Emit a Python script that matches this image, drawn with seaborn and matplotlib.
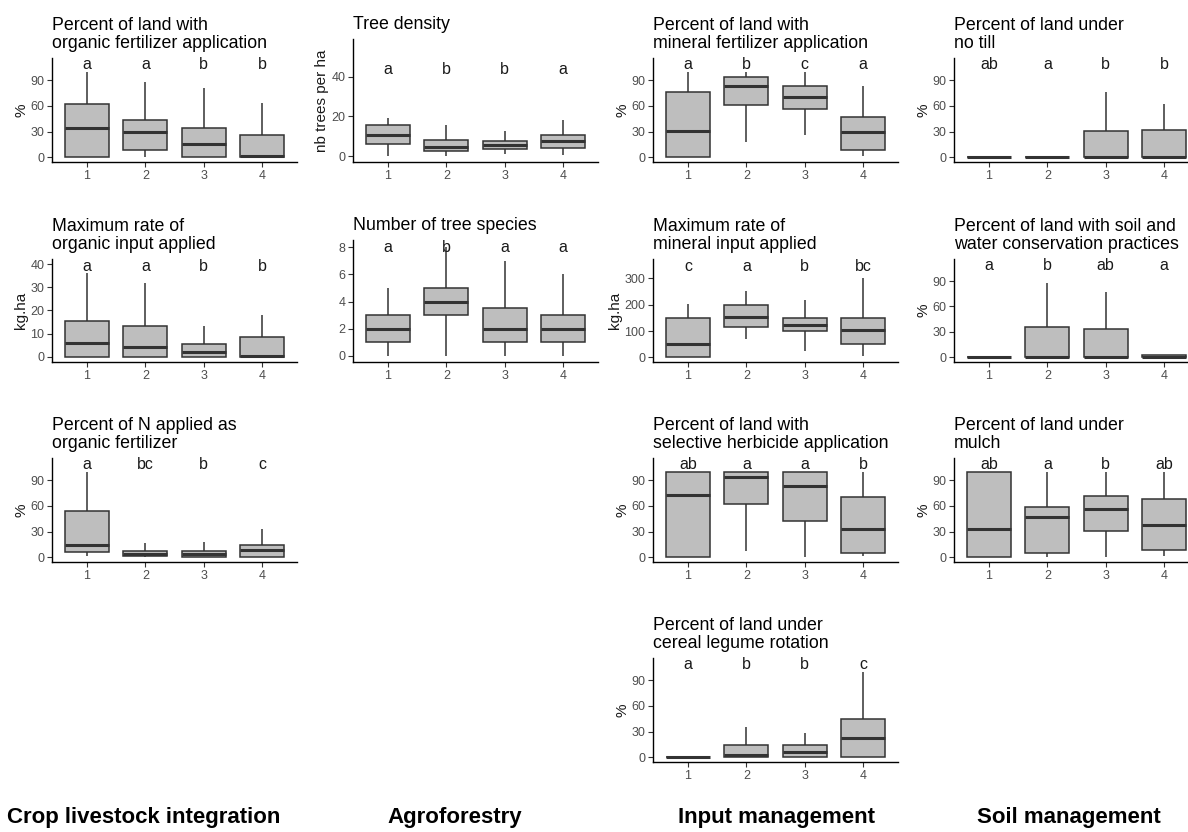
# ----------------------------------------------------------
# Boxplots of farm practices by farm type (1-4)
# ----------------------------------------------------------
import numpy as np
import pandas as pd
import matplotlib.pyplot as plt
import seaborn as sns

# ----------------------------------------------------------
# Data: per farm type [low whisker, Q1, median, Q3, high whisker]
# ----------------------------------------------------------
groups = ["1", "2", "3", "4"]

organic_fert_pct = [[0, 0, 34, 62, 100], [0, 9, 29, 43, 88],
                    [0, 0, 15, 34, 81], [0, 0, 1, 26, 63]]
organic_fert_letters = ["a", "a", "b", "b"]

tree_density = [[0, 5.9, 10.8, 15.5, 19.4], [0, 2.7, 4.7, 7.9, 15.7],
                [1, 3.4, 5.7, 7.4, 12.7], [0.7, 3.9, 7.8, 10.5, 18.2]]
tree_density_letters = ["a", "b", "b", "a"]

mineral_fert_pct = [[0, 0, 31, 76, 100], [18, 61, 83, 93.5, 100],
                    [26, 57, 70.5, 83, 100], [1, 8, 29.6, 46.7, 83.4]]
mineral_fert_letters = ["a", "b", "c", "a"]

no_till_pct = [[0, 0, 0, 0, 0], [0, 0, 0, 0, 0],
               [0, 0, 0, 30.4, 76.4], [0, 0, 0, 31.5, 62.3]]
no_till_letters = ["ab", "a", "b", "b"]

max_organic_rate = [[0, 0, 5.8, 15.4, 36.3], [0, 0, 4.2, 13.2, 32],
                    [0, 0, 1.9, 5.5, 13.4], [0, 0, 0.4, 8.6, 17.8]]
max_organic_letters = ["a", "a", "b", "b"]

tree_species = [[0, 1, 2, 3, 5], [0, 3, 4, 5, 8],
                [0, 1, 2, 3.5, 7], [0, 1, 2, 3, 6]]
tree_species_letters = ["a", "b", "a", "a"]

max_mineral_rate = [[0, 0, 51, 149, 202], [71, 115, 152, 201, 253],
                    [25, 99, 123, 149, 220], [5, 50, 103, 149, 300]]
max_mineral_letters = ["c", "a", "b", "bc"]

swc_pct = [[0, 0, 0, 0, 0], [0, 0, 0.8, 35.5, 88],
           [0, 0, 0.5, 33.2, 77.4], [0, 0, 0.5, 2.5, 3]]
swc_letters = ["a", "b", "ab", "a"]

n_organic_pct = [[1, 5.8, 14, 53.5, 100], [0, 1.2, 4.3, 7, 17],
                 [0, 0, 4.3, 7, 17.8], [0, 0, 8.5, 14.4, 33.4]]
n_organic_letters = ["a", "bc", "b", "c"]

herbicide_pct = [[0, 0, 72.5, 100, 100], [7.8, 61.7, 93.5, 100, 100],
                 [0, 41.9, 83.4, 100, 100], [1, 5, 33.4, 71, 100]]
herbicide_letters = ["ab", "a", "a", "b"]

mulch_pct = [[0, 0, 33.4, 100, 100], [0, 4.7, 46.5, 59.3, 100],
             [0, 30.3, 57, 72, 100], [1, 9, 37.2, 68, 100]]
mulch_letters = ["ab", "a", "b", "ab"]

rotation_pct = [[0, 0, 0, 0, 0], [0, 0, 3.1, 14.4, 35.7],
                [0, 0, 5.8, 14.4, 28.3], [0, 0, 22.9, 44.6, 100]]
rotation_letters = ["a", "b", "b", "c"]

section_labels = ["Crop livestock integration", "Agroforestry",
                  "Input management", "Soil management"]

# ----------------------------------------------------------
# Panel settings: (col, row, title, ylabel, values, letters, kind)
# ----------------------------------------------------------
panels = [
    (0, 0, "Percent of land with\norganic fertilizer application", "%",
     organic_fert_pct, organic_fert_letters, "pct"),
    (1, 0, "Tree density", "nb trees per ha",
     tree_density, tree_density_letters, "density"),
    (2, 0, "Percent of land with\nmineral fertilizer application", "%",
     mineral_fert_pct, mineral_fert_letters, "pct"),
    (3, 0, "Percent of land under\nno till", "%",
     no_till_pct, no_till_letters, "pct"),
    (0, 1, "Maximum rate of\norganic input applied", "kg.ha",
     max_organic_rate, max_organic_letters, "organic"),
    (1, 1, "Number of tree species", "",
     tree_species, tree_species_letters, "species"),
    (2, 1, "Maximum rate of\nmineral input applied", "kg.ha",
     max_mineral_rate, max_mineral_letters, "mineral"),
    (3, 1, "Percent of land with soil and\nwater conservation practices", "%",
     swc_pct, swc_letters, "pct"),
    (0, 2, "Percent of N applied as\norganic fertilizer", "%",
     n_organic_pct, n_organic_letters, "pct"),
    (2, 2, "Percent of land with\nselective herbicide application", "%",
     herbicide_pct, herbicide_letters, "pct"),
    (3, 2, "Percent of land under\nmulch", "%",
     mulch_pct, mulch_letters, "pct"),
    (2, 3, "Percent of land under\ncereal legume rotation", "%",
     rotation_pct, rotation_letters, "pct"),
]

# y limits, ticks and height of the letters for each kind of scale
scales = {
    "pct": ((-5.5, 116), [0, 30, 60, 90], 108),
    "density": ((-3, 59), [0, 20, 40], 43.7),
    "organic": ((-2.3, 42.2), [0, 10, 20, 30, 40], 39),
    "species": ((-0.46, 8.54), [0, 2, 4, 6, 8], 7.95),
    "mineral": ((-17.6, 374), [0, 100, 200, 300], 344),
}

# ----------------------------------------------------------
# Figure layout (pixels)
# ----------------------------------------------------------
W, H = 1188, 832
col_left = [52, 353, 653, 954]
col_width = 245
row_top = [58, 259, 458, 658]
row_bottom = [162, 362, 562, 762]

sns.set_theme(style="ticks")
plt.rcParams["font.family"] = ["Liberation Sans", "DejaVu Sans"]

fig = plt.figure(figsize=(W / 100, H / 100), dpi=100)

for col, row, title, ylabel, values, letters, kind in panels:
    top = row_top[row]
    if "\n" not in title:
        top -= 19  # single line title leaves more room for the panel
    bottom = row_bottom[row]
    ax = fig.add_axes([col_left[col] / W, 1 - bottom / H,
                       col_width / W, (bottom - top) / H])

    df = pd.DataFrame({
        "group": np.repeat(groups, 5),
        "value": np.concatenate(values),
    })

    sns.boxplot(data=df, x="group", y="value", order=groups, ax=ax,
                color="#BEBEBE", saturation=1, linecolor="#333333",
                linewidth=1.1, width=0.75, whis=(0, 100), showcaps=False,
                fliersize=0, medianprops={"linewidth": 2.2})

    ylim, yticks, letter_y = scales[kind]
    for i, letter in enumerate(letters):
        ax.text(i, letter_y, letter, ha="center", va="center",
                fontsize=11.5, color="#1A1A1A")

    ax.set_xlim(-0.6, 3.6)
    ax.set_ylim(*ylim)
    ax.set_yticks(yticks)
    ax.set_xlabel("")
    ax.set_ylabel(ylabel, fontsize=11, color="#1A1A1A", labelpad=1.5)
    ax.set_title(title, loc="left", fontsize=12.8, pad=7, color="black",
                 linespacing=1.1)

    sns.despine(ax=ax)
    for side in ["left", "bottom"]:
        ax.spines[side].set_color("black")
        ax.spines[side].set_linewidth(1.0)
    ax.tick_params(axis="both", colors="#333333", labelcolor="#4D4D4D",
                   labelsize=9, length=3.5, width=0.8, pad=2)

# ----------------------------------------------------------
# Section labels at the bottom
# ----------------------------------------------------------
label_x = [144, 455, 776, 1069]
for x, label in zip(label_x, section_labels):
    fig.text(x / W, 1 - 818 / H, label, ha="center", va="center",
             fontsize=16, fontweight="bold", color="black")

fig.savefig("out.png", dpi=100)
